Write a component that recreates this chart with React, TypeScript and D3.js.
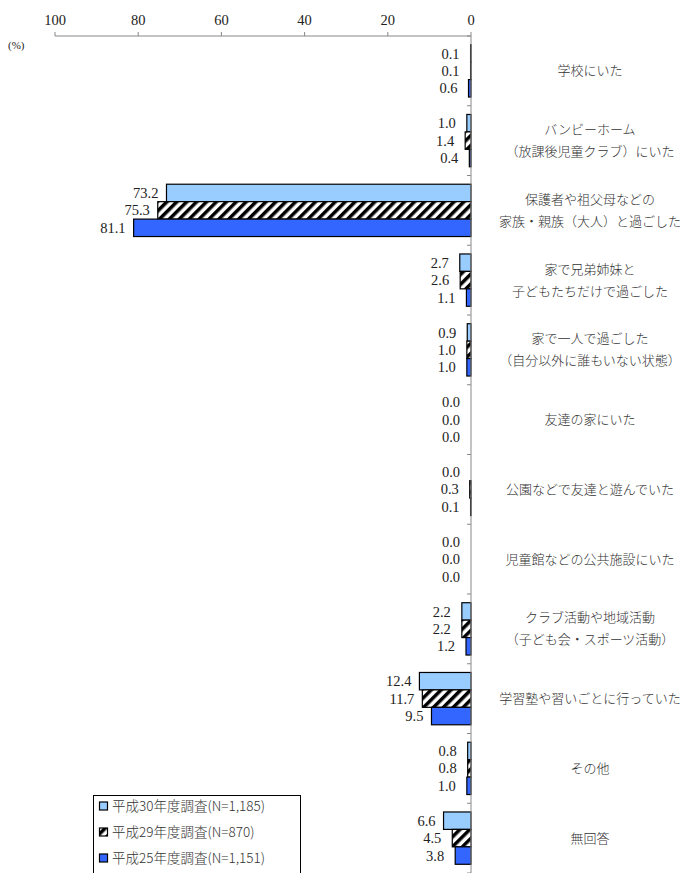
import * as d3 from "d3";

const categories = [
  "学校にいた",
  "バンビーホーム\n（放課後児童クラブ）にいた",
  "保護者や祖父母などの\n家族・親族（大人）と過ごした",
  "家で兄弟姉妹と\n子どもたちだけで過ごした",
  "家で一人で過ごした\n（自分以外に誰もいない状態）",
  "友達の家にいた",
  "公園などで友達と遊んでいた",
  "児童館などの公共施設にいた",
  "クラブ活動や地域活動\n（子ども会・スポーツ活動）",
  "学習塾や習いごとに行っていた",
  "その他",
  "無回答",
];

const seriesNames = [
  "平成30年度調査(N=1,185)",
  "平成29年度調査(N=870)",
  "平成25年度調査(N=1,151)",
];

const h30 = [0.1, 1.0, 73.2, 2.7, 0.9, 0.0, 0.0, 0.0, 2.2, 12.4, 0.8, 6.6];
const h29 = [0.1, 1.4, 75.3, 2.6, 1.0, 0.0, 0.3, 0.0, 2.2, 11.7, 0.8, 4.5];
const h25 = [0.6, 0.4, 81.1, 1.1, 1.0, 0.0, 0.1, 0.0, 1.2, 9.5, 1.0, 3.8];

const xTicks = [100, 80, 60, 40, 20, 0];

const W = 691;
const H = 873;
const numFont = "'Liberation Serif', 'DejaVu Serif', serif";
const jpFont = "'Noto Sans CJK JP', sans-serif";
const fills = ["#99ccff", "url(#hatch)", "#3366ff"];

export default function App() {
  const series = [h30, h29, h25];
  const x = d3.scaleLinear().domain([0, 100]).range([471, 55]);
  const y = d3
    .scaleBand<string>()
    .domain(categories)
    .range([36, 873])
    .paddingInner(0.25)
    .paddingOuter(0.125);
  const sub = d3
    .scaleBand<number>()
    .domain([0, 1, 2])
    .range([0, y.bandwidth()]);
  const step = y.step();
  const bounds = d3.range(categories.length + 1).map((i) => 36 + i * step);

  return (
    <div style={{ position: "absolute", left: 0, top: 0 }}>
      <svg width={W} height={H} style={{ display: "block", background: "#fff" }}>
        <defs>
          <pattern
            id="hatch"
            patternUnits="userSpaceOnUse"
            width={7}
            height={7}
            patternTransform="rotate(45)"
          >
            <rect width={7} height={7} fill="#fff" />
            <rect width={3.5} height={7} fill="#000" />
          </pattern>
        </defs>

        {/* top axis */}
        <line x1={x(100)} x2={x(0)} y1={36} y2={36} stroke="#888" />
        {xTicks.map((t) => (
          <g key={t}>
            <line x1={x(t)} x2={x(t)} y1={32} y2={36} stroke="#888" />
            <text
              x={x(t)}
              y={25}
              textAnchor="middle"
              fontFamily={numFont}
              fontSize={14.5}
              fill="#222"
            >
              {t}
            </text>
          </g>
        ))}
        <text x={8} y={49} fontFamily={numFont} fontSize={11} fill="#222">
          (%)
        </text>

        {/* bars */}
        {categories.map((c, ci) => (
          <g key={c}>
            {series.map((vals, si) => {
              const v = vals[ci];
              const y0 = (y(c) as number) + (sub(si) as number);
              const bh = sub.bandwidth();
              const w = x(0) - x(v);
              return (
                <g key={si}>
                  {w > 0.3 && (
                    <rect
                      x={x(v)}
                      y={y0}
                      width={w}
                      height={bh}
                      fill={fills[si]}
                      stroke="#000"
                      strokeWidth={1.2}
                    />
                  )}
                  <text
                    x={x(v) - (v > 5 ? 8 : 11)}
                    y={y0 + bh / 2}
                    dy="0.35em"
                    textAnchor="end"
                    fontFamily={numFont}
                    fontSize={14.5}
                    fill="#222"
                  >
                    {v.toFixed(1)}
                  </text>
                </g>
              );
            })}
            {(() => {
              const lines = c.split("\n");
              const cy = (y(c) as number) + y.bandwidth() / 2;
              return lines.map((ln, li) => (
                <text
                  key={li}
                  x={590}
                  y={cy + (li - (lines.length - 1) / 2) * 22}
                  dy="0.35em"
                  textAnchor="middle"
                  fontFamily={jpFont}
                  fontSize={13}
                  fontWeight={300}
                  fill="#333"
                >
                  {ln}
                </text>
              ));
            })()}
          </g>
        ))}

        {/* vertical axis */}
        <line x1={471} x2={471} y1={36} y2={H} stroke="#888" />
        {bounds.map((b, i) => (
          <line key={i} x1={467} x2={471} y1={b} y2={b} stroke="#888" />
        ))}

        {/* legend */}
        <rect x={93.5} y={795.5} width={207} height={90} fill="#fff" stroke="#000" />
        {seriesNames.map((s, i) => (
          <g key={s} transform={`translate(99,${806 + i * 26})`}>
            <rect
              x={0.5}
              y={-4}
              width={8}
              height={8}
              fill={fills[i]}
              stroke="#000"
              strokeWidth={1.2}
            />
            <text
              x={13}
              y={0}
              dy="0.35em"
              fontFamily={jpFont}
              fontSize={13.5}
              fontWeight={300}
              fill="#333"
            >
              {s}
            </text>
          </g>
        ))}
      </svg>
    </div>
  );
}
